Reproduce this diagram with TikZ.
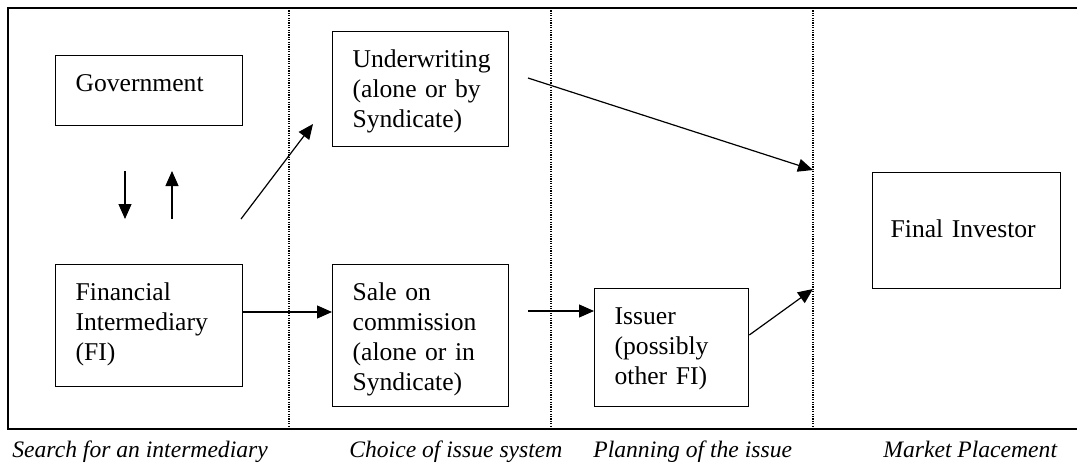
\documentclass[tikz,border=0pt]{standalone}
\usepackage{fontspec}
\setmainfont{Liberation Serif}
\usetikzlibrary{arrows.meta}

\tikzset{
  box/.style={draw, line width=0.65pt, anchor=north west, align=left,
    inner xsep=10pt, inner ysep=0pt, text height=18pt},
  phase/.style={anchor=base west, inner sep=0pt, font=\fontsize{11.8}{14}\selectfont\itshape},
  flow/.style={line width=0.6pt, -{Triangle[length=7.5pt,width=6.5pt]}},
  sep/.style={line width=0.7pt, dash pattern=on 0.6pt off 0.6pt}
}

\begin{document}
\begin{tikzpicture}[x=0.5pt, y=-0.5pt, font=\fontsize{12.8}{15}\selectfont]
            \useasboundingbox (0,0) rectangle (1077,466);
            \begin{scope}
            \clip (0,0) rectangle (1077,466);
            \draw[line width=0.8pt] (8,8) rectangle (1085,429);
            \end{scope}
            % phase separators
            \foreach \x in {289,551,813}
                \draw[sep] (\x,8) -- (\x,429);
            % boxes
            \node[box, text width=73.5pt, text depth=17pt] (gov) at (55,55) {Government};
            \node[box, text width=73.5pt, text depth=43pt] (fi) at (55,264) {Financial\\Intermediary\\(FI)};
            \node[box, text width=68pt, text depth=39.5pt] (under) at (332,31) {Underwriting\\(alone or by\\Syndicate)};
            \node[box, text width=68pt, text depth=53pt] (sale) at (332,264) {Sale on\\commission\\(alone or in\\Syndicate)};
            \node[box, text width=57pt, text depth=41pt] (issuer) at (594,288) {Issuer\\(possibly\\other FI)};
            \node[box, inner xsep=9pt, text width=76pt, text height=32.5pt, text depth=25.5pt] (investor) at (872,172) {Final Investor};
            % free arrow ends
            \coordinate (down1) at (125,171);
            \coordinate (down2) at (125,219);
            \coordinate (up1) at (172,219);
            \coordinate (up2) at (172,171);
            \coordinate (diag1) at (241,219);
            \coordinate (diag2) at (313,124);
            \coordinate (und1) at (528,78);
            \coordinate (und2) at (813,170);
            \coordinate (sale1) at (528,311);
            \coordinate (iss2) at (813,289);
            % arrows
            \draw[flow] (down1) -- (down2);
            \draw[flow] (up1) -- (up2);
            \draw[flow] (diag1) -- (diag2);
            \draw[flow] (fi.east |- 0,312) -- (sale.west |- 0,312);
            \draw[flow] (und1) -- (und2);
            \draw[flow] (sale1) -- (issuer.west |- sale1);
            \draw[flow] (issuer.east |- 0,335) -- (iss2);
            % phase labels
            \node[phase] (search) at (12,457) {Search for an intermediary};
            \node[phase] (choice) at (349,457) {Choice of issue system};
            \node[phase] (plan) at (593,457) {Planning of the issue};
            \node[phase] (market) at (883,457) {Market Placement};
        \end{tikzpicture}
\end{document}
